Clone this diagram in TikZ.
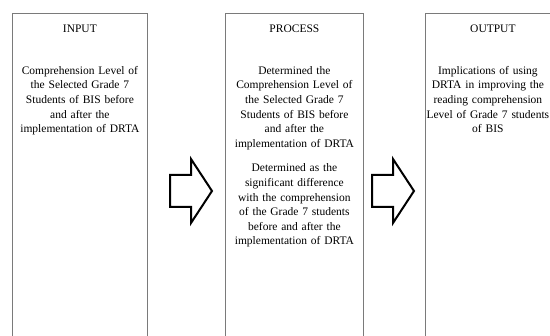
\documentclass[tikz,border=0pt]{standalone}
\usepackage{fontspec}
\setmainfont{Liberation Serif}
\usetikzlibrary{positioning}
\definecolor{boxline}{HTML}{7A7A7A}

\begin{document}
\begin{tikzpicture}[
    x=1pt, y=-1pt,
    node distance=33pt,
    colbox/.style={draw=boxline, line width=0.8pt, minimum width=135pt,
                   minimum height=340pt, anchor=north west, inner sep=0pt},
    heading/.style={font=\fontsize{11.5}{14.5}\selectfont, inner sep=0pt},
    body/.style={text width=134pt, align=center, inner sep=0pt,
                 font=\fontsize{11.5}{14.6}\selectfont},
    fatarrow/.style={draw, line width=2pt, fill=white, line join=miter},
  ]
  \useasboundingbox (0,0) rectangle (550,336);

  % the three columns
  \node[colbox] (input) at (12,13) {};
  \node[colbox, minimum width=138pt] (process) at (225,13) {};
  \node[colbox] (output) at (425,13) {};

  \node[heading] (intitle)   at ([yshift=-16pt]input.north)   {INPUT};
  \node[heading] (proctitle) at ([yshift=-16pt]process.north) {PROCESS};
  \node[heading] (outtitle)  at ([yshift=-16pt]output.north)  {OUTPUT};

  \node[body, below=of intitle] (intext)
    {Comprehension Level of\\the Selected Grade 7\\Students of BIS before\\and after the\\implementation of DRTA};
  \node[body, below=of proctitle] (proctext)
    {Determined the\\Comprehension Level of\\the Selected Grade 7\\Students of BIS before\\and after the\\implementation of DRTA\\[10pt]
     Determined as the\\significant difference\\with the comprehension\\of the Grade 7 students\\before and after the\\implementation of DRTA};
  \node[body, below=of outtitle, xshift=-5pt] (outtext)
    {Implications of using\\DRTA in improving the\\reading comprehension\\Level of Grade 7 students\\of BIS};

  % block arrows between the columns
  \foreach \x/\n in {170/inarrow, 372/outarrow}{
    \coordinate (\n) at (\x,191);
    \draw[fatarrow] (\n) ++(0,-16) -- ++(21,0) -- ++(0,-16) -- ++(21,32)
      -- ++(-21,32) -- ++(0,-16) -- ++(-21,0) -- cycle;
  }
\end{tikzpicture}
\end{document}
